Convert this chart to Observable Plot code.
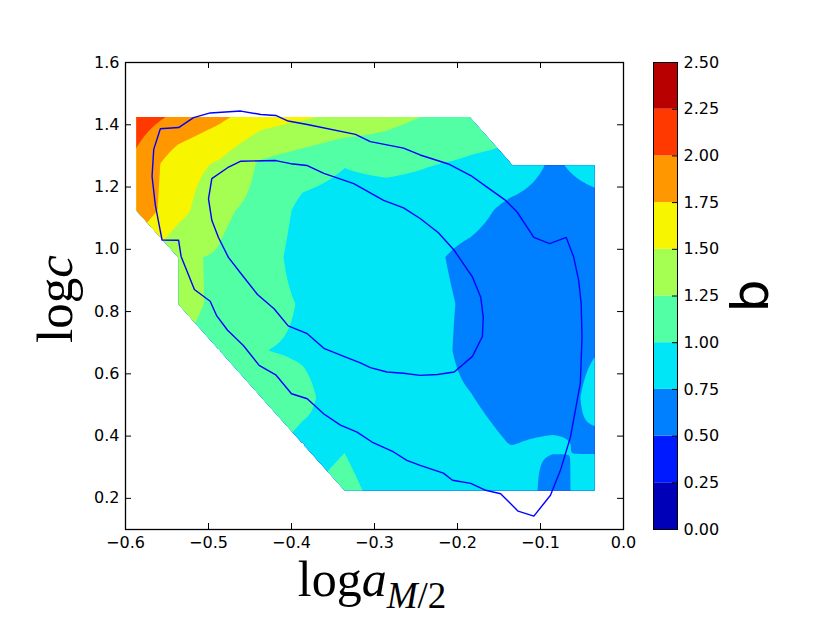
<!DOCTYPE html>
<html><head><meta charset="utf-8">
<script src="https://cdn.jsdelivr.net/npm/d3@7"></script>
<script src="https://cdn.jsdelivr.net/npm/@observablehq/plot@0.6"></script>
<style>
html,body{margin:0;padding:0;background:#fff;}
#chart{position:relative;width:830px;height:623px;background:#fff;}
#chart svg{position:absolute;left:0;top:0;}
</style></head><body><div id="chart"></div>
<script>
// grid coordinates (log a_{M/2} columns, log c rows)
const logA = [-0.587, -0.5368, -0.4866, -0.4364, -0.3862, -0.336, -0.2858, -0.2356, -0.1854, -0.1352, -0.085, -0.0348];
const logC = [0.225, 0.375, 0.525, 0.675, 0.825, 0.975, 1.125, 1.275, 1.425];
// b values on the grid, one row per logC value (null = no data)
const bRow0 = [null, null, null, null, null, 1.042, 0.944, 0.88, 0.85, 0.971, 0.62, 0.93];
const bRow1 = [null, null, null, null, 0.94, 0.99, 0.90, 0.85, 0.83, 0.744, 0.787, 0.70];
const bRow2 = [null, null, null, 1.18, 1.06, 0.87, 0.85, 0.82, 0.76, 0.66, 0.595, 0.83];
const bRow3 = [null, null, 1.18, 1.005, 0.97, 0.90, 0.88, 0.84, 0.687, 0.63, 0.64, 0.736];
const bRow4 = [null, 1.30, 1.22, 1.10, 0.978, 0.90, 0.87, 0.82, 0.714, 0.62, 0.60, 0.68];
const bRow5 = [null, 1.276, 1.233, 1.12, 0.894, 0.87, 0.84, 0.80, 0.68, 0.60, 0.58, 0.64];
const bRow6 = [1.917, 1.59, 1.29, 1.185, 0.93, 0.90, 0.86, 0.88, 0.85, 0.675, 0.62, 0.63];
const bRow7 = [1.94, 1.61, 1.47, 1.214, 1.11, 1.01, 1.06, 1.01, 0.974, 0.94, 0.708, 0.876];
const bRow8 = [2.12, 1.95, 1.80, 1.61, 1.53, 1.44, 1.33, 1.232, 1.12, null, null, null];
const bRows = [bRow0, bRow1, bRow2, bRow3, bRow4, bRow5, bRow6, bRow7, bRow8];

const levels = [0, 0.25, 0.5, 0.75, 1.0, 1.25, 1.5, 1.75, 2.0, 2.25, 2.5];
const bandColors = ["#0000b9", "#001aff", "#0080ff", "#00e6f7", "#52ffa4", "#a4ff52", "#f7f500", "#ff9700", "#ff3900", "#b90000"];

const xTicks = [-0.6, -0.5, -0.4, -0.3, -0.2, -0.1, 0.0];
const yTicks = [0.2, 0.4, 0.6, 0.8, 1.0, 1.2, 1.4, 1.6];

// contour lines
const outerLogA = [-0.558,-0.536,-0.518,-0.498,-0.461,-0.437,-0.419,-0.404,-0.381,-0.323,-0.305,-0.265,-0.245,-0.211,-0.184,-0.164,-0.142,-0.128,-0.108,-0.089,-0.069,-0.060,-0.054,-0.051,-0.050,-0.052,-0.058,-0.064,-0.076,-0.088,-0.108,-0.127,-0.148,-0.166,-0.184,-0.206,-0.217,-0.227,-0.245,-0.261,-0.277,-0.303,-0.321,-0.341,-0.361,-0.381,-0.400,-0.419,-0.439,-0.458,-0.477,-0.490,-0.498,-0.517,-0.533,-0.536,-0.556,-0.564,-0.568,-0.566];
const outerLogC = [1.387,1.391,1.423,1.438,1.444,1.433,1.430,1.412,1.401,1.369,1.346,1.325,1.303,1.274,1.237,1.199,1.157,1.119,1.038,1.018,1.038,0.975,0.900,0.826,0.717,0.570,0.483,0.396,0.290,0.210,0.143,0.159,0.215,0.226,0.248,0.258,0.281,0.290,0.306,0.322,0.349,0.381,0.413,0.435,0.471,0.520,0.536,0.597,0.627,0.691,0.740,0.786,0.833,0.871,0.977,1.029,1.030,1.141,1.234,1.321];
const innerLogA = [-0.496,-0.477,-0.461,-0.419,-0.401,-0.381,-0.361,-0.325,-0.289,-0.265,-0.245,-0.223,-0.204,-0.182,-0.172,-0.169,-0.170,-0.182,-0.204,-0.224,-0.245,-0.265,-0.285,-0.305,-0.317,-0.337,-0.361,-0.381,-0.404,-0.421,-0.441,-0.460,-0.476,-0.488,-0.496,-0.500];
const innerLogC = [1.227,1.262,1.283,1.285,1.275,1.269,1.244,1.211,1.157,1.133,1.099,1.053,0.997,0.911,0.846,0.782,0.720,0.656,0.606,0.598,0.595,0.602,0.606,0.620,0.635,0.656,0.682,0.729,0.754,0.809,0.855,0.919,0.974,1.038,1.093,1.162];

// field on the grid: bilinear in full cells, planar (three known corners) in cells with one missing corner
function bField(x, y) {
  const nx = logA.length, ny = logC.length;
  const ex = 0.006, ey = 0.02;
  if (x < logA[0] - ex || x > logA[nx - 1] + ex || y < logC[0] - ey || y > logC[ny - 1] + ey) return NaN;
  x = Math.min(Math.max(x, logA[0]), logA[nx - 1]);
  y = Math.min(Math.max(y, logC[0]), logC[ny - 1]);
  const i = Math.max(0, Math.min(d3.bisectRight(logA, x) - 1, nx - 2));
  const j = Math.max(0, Math.min(d3.bisectRight(logC, y) - 1, ny - 2));
  const fu = (x - logA[i]) / (logA[i + 1] - logA[i]);
  const fv = (y - logC[j]) / (logC[j + 1] - logC[j]);
  const a = bRows[j][i], b = bRows[j][i + 1], c = bRows[j + 1][i], d = bRows[j + 1][i + 1];
  const miss = [a, b, c, d].filter(v => v == null).length;
  if (miss === 0) return a * (1 - fu) * (1 - fv) + b * fu * (1 - fv) + c * (1 - fu) * fv + d * fu * fv;
  if (miss > 1) return NaN;
  if (a == null) return d + (1 - fu) * (c - d) + (1 - fv) * (b - d);
  if (b == null) return a + fv * (c - a) + fu * (d - c);
  if (c == null) return a + fu * (b - a) + fv * (d - b);
  return a + fu * (b - a) + fv * (c - a);
}

const W = 830, H = 623;
const frameW = W - 125 - 207, frameH = H - 62 - 94;
const fmt1 = d3.format(".1f");

const main = Plot.plot({
  width: W, height: H,
  marginLeft: 125, marginRight: 207, marginTop: 62, marginBottom: 94,
  style: {background: "transparent", fontFamily: "DejaVu Sans", fontSize: "16px", color: "black"},
  x: {domain: [-0.6, 0]},
  y: {domain: [0.1, 1.6]},
  color: {type: "threshold", domain: levels.slice(1, -1), range: bandColors},
  marks: [
    Plot.contour({
      fill: (x, y) => bField(x, y),
      x1: -0.6, x2: 0, y1: 0.1, y2: 1.6,
      thresholds: levels.slice(0, -1),
      stroke: "none"
    }),
    Plot.line(outerLogA, {x: outerLogA, y: outerLogC, stroke: "#0000ff", strokeWidth: 1.4, curve: "linear-closed"}),
    Plot.line(innerLogA, {x: innerLogA, y: innerLogC, stroke: "#0000ff", strokeWidth: 1.4, curve: "linear-closed"}),
    Plot.tickX(xTicks, {x: d => d, insetTop: frameH - 6, stroke: "black"}),
    Plot.tickX(xTicks, {x: d => d, insetBottom: frameH - 6, stroke: "black"}),
    Plot.tickY(yTicks, {y: d => d, insetRight: frameW - 6, stroke: "black"}),
    Plot.tickY(yTicks, {y: d => d, insetLeft: frameW - 6, stroke: "black"}),
    Plot.frame({stroke: "black", strokeWidth: 1.3}),
    Plot.axisX({anchor: "bottom", ticks: xTicks, tickFormat: fmt1, tickSize: 0, tickPadding: 7, label: null, fill: "black"}),
    Plot.axisY({anchor: "left", ticks: yTicks, tickFormat: fmt1, tickSize: 0, tickPadding: 6, label: null, fill: "black"})
  ]
});

// clip the filled contours to the cells that have data (full cells, or the triangle of three known corners)
(function clipToValidCells() {
  const sx = main.scale("x"), sy = main.scale("y");
  let d = "";
  for (let j = 0; j < logC.length - 1; ++j) {
    for (let i = 0; i < logA.length - 1; ++i) {
      const corners = [
        [i, j], [i + 1, j], [i + 1, j + 1], [i, j + 1]
      ].filter(([ii, jj]) => bRows[jj][ii] != null);
      if (corners.length < 3) continue;
      d += "M" + corners.map(([ii, jj]) => `${sx.apply(logA[ii]).toFixed(2)},${sy.apply(logC[jj]).toFixed(2)}`).join("L") + "Z";
    }
  }
  const ns = "http://www.w3.org/2000/svg";
  const defs = document.createElementNS(ns, "defs");
  const cp = document.createElementNS(ns, "clipPath");
  cp.setAttribute("id", "valid-cells");
  const p = document.createElementNS(ns, "path");
  p.setAttribute("d", d);
  cp.appendChild(p);
  defs.appendChild(cp);
  main.insertBefore(defs, main.firstChild);
  const g = main.querySelector('g[aria-label="contour"]');
  if (g) g.setAttribute("clip-path", "url(#valid-cells)");
})();

const cbar = Plot.plot({
  width: W, height: H,
  marginLeft: 653, marginRight: 153, marginTop: 62, marginBottom: 94,
  style: {background: "transparent", fontFamily: "DejaVu Sans", fontSize: "16px", color: "black"},
  x: {domain: [0, 1], axis: null},
  y: {domain: [0, 2.5]},
  color: {type: "identity"},
  marks: [
    Plot.rect(bandColors, {x1: 0, x2: 1, y1: (d, i) => levels[i], y2: (d, i) => levels[i + 1], fill: d => d}),
    Plot.tickY(levels, {y: d => d, insetLeft: 19, stroke: "black"}),
    Plot.frame({stroke: "black", strokeWidth: 1}),
    Plot.axisY({anchor: "right", ticks: levels, tickFormat: d3.format(".2f"), tickSize: 0, tickPadding: 6, label: null, fill: "black"})
  ]
});

const box = document.getElementById("chart");
box.appendChild(main);
box.appendChild(cbar);

const sm = d3.select(main);
const xl = sm.append("text").attr("x", 372).attr("y", 596).attr("text-anchor", "middle")
  .style("font-family", "Liberation Serif").style("font-size", "50px").attr("fill", "black");
xl.append("tspan").text("log");
xl.append("tspan").style("font-style", "italic").text("a");
xl.append("tspan").attr("dy", 12).style("font-size", "37px").style("font-style", "italic").text("M");
xl.append("tspan").style("font-size", "37px").text("/2");

const yl = sm.append("text").attr("transform", "translate(72,299) rotate(-90)").attr("text-anchor", "middle")
  .style("font-family", "Liberation Serif").style("font-size", "51px").attr("fill", "black");
yl.append("tspan").text("log");
yl.append("tspan").style("font-style", "italic").text("c");

d3.select(cbar).append("text").attr("transform", "translate(768,296) rotate(-90)").attr("text-anchor", "middle")
  .style("font-family", "DejaVu Sans").style("font-size", "52px").attr("fill", "black").text("b");
</script></body></html>
